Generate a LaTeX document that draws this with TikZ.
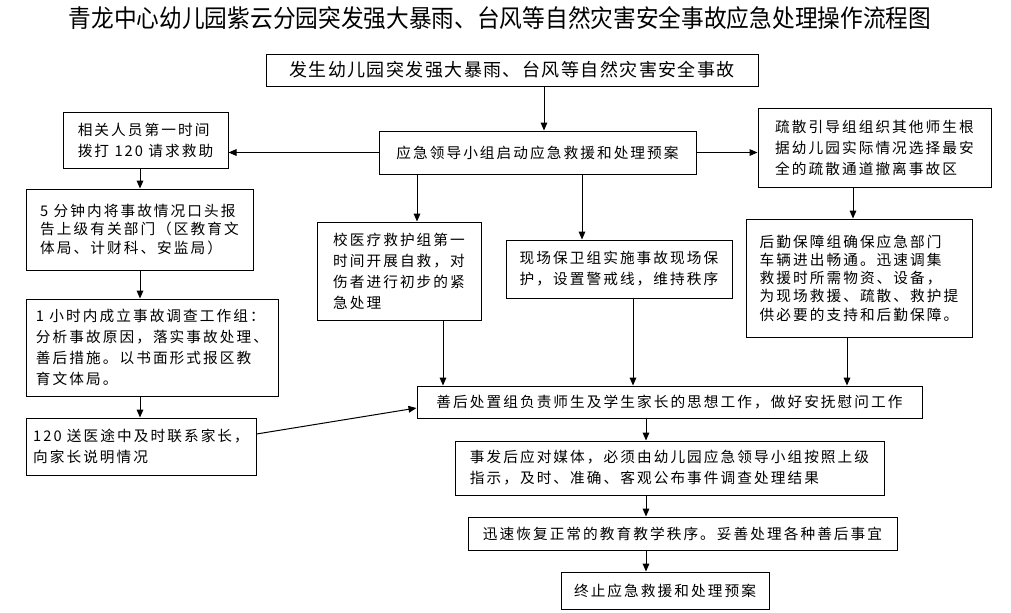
\documentclass[tikz,border=0pt]{standalone}
\usepackage{fontspec}
\setmainfont{Noto Sans CJK SC}[LetterSpace=14]
\newfontfamily\qlheadline{Noto Sans CJK SC}[LetterSpace=0]
\newfontfamily\headfont{Noto Sans CJK SC}[LetterSpace=8]
\usetikzlibrary{arrows.meta}
\newcommand\pxbox[7]{\node[box,minimum width={(#4-#2)*0.75pt},minimum height={(#5-#3)*0.75pt},#6] (#1) at ({(#2+#4)/2},{(#3+#5)/2}) {#7};}
\begin{document}
\begin{tikzpicture}[x=0.75pt,y=-0.75pt,
  box/.style={draw, line width=0.75pt, align=left, inner sep=0pt, font=\fontsize{11pt}{15.75pt}\selectfont},
  tight/.style={font=\fontsize{11pt}{13.7pt}\selectfont},
  arr/.style={line width=0.75pt, -{Triangle[length=6pt,width=5pt]}}]
\useasboundingbox (0,0) rectangle (1011,612);

\node[font=\qlheadline\fontsize{18.5pt}{22pt}\selectfont, inner sep=0pt] (title) at (500,18) {\scalebox{0.92}[1]{青龙中心幼儿园紫云分园突发强大暴雨、台风等自然灾害安全事故应急处理操作流程图}};

\pxbox{A}{266}{54}{758}{86}{font=\headfont\fontsize{13.5pt}{16pt}\selectfont}{发生幼儿园突发强大暴雨、台风等自然灾害安全事故}
\pxbox{B}{379}{131}{696}{174}{}{应急领导小组启动应急救援和处理预案}
\pxbox{C}{63}{112}{228}{168}{}{相关人员第一时间\\拨打 120 请求救助}
\pxbox{D}{758}{108}{991}{187}{}{疏散引导组组织其他师生根\\据幼儿园实际情况选择最安\\全的疏散通道撤离事故区}
\pxbox{E}{26}{189}{253}{270}{tight}{5 分钟内将事故情况口头报\\告上级有关部门（区教育文\\体局、计财科、安监局）}
\pxbox{F}{317}{222}{481}{320}{}{校医疗救护组第一\\时间开展自救，对\\伤者进行初步的紧\\急处理}
\pxbox{G}{506}{240}{732}{298}{}{现场保卫组实施事故现场保\\护，设置警戒线，维持秩序}
\pxbox{H}{746}{219}{972}{337}{tight}{后勤保障组确保应急部门\\车辆进出畅通。迅速调集\\救援时所需物资、设备，\\为现场救援、疏散、救护提\\供必要的支持和后勤保障。}
\pxbox{I}{26}{299}{278}{396}{}{1 小时内成立事故调查工作组：\\分析事故原因，落实事故处理、\\善后措施。以书面形式报区教\\育文体局。}
\pxbox{J}{26}{418}{256}{475}{}{120 送医途中及时联系家长，\\向家长说明情况}
\pxbox{K}{417}{386}{922}{418}{}{善后处置组负责师生及学生家长的思想工作，做好安抚慰问工作}
\pxbox{L}{455}{441}{884}{495}{}{事发后应对媒体，必须由幼儿园应急领导小组按照上级\\指示，及时、准确、客观公布事件调查处理结果}
\pxbox{M}{468}{517}{897}{550}{}{迅速恢复正常的教育教学秩序。妥善处理各种善后事宜}
\pxbox{N}{561}{572}{769}{609}{}{终止应急救援和处理预案}

\coordinate (xAB) at (544,0);
\coordinate (xL) at (140,0);
\coordinate (xF) at (417,0);
\coordinate (xG) at (582,0);
\coordinate (xD) at (853,0);
\coordinate (xFK) at (443,0);
\coordinate (xGK) at (633,0);
\coordinate (xHK) at (847,0);
\coordinate (xC) at (646,0);
\coordinate (yJ) at (0,434);
\coordinate (yK) at (0,408);

\draw[arr] (A.south -| xAB) -- (B.north -| xAB);
\draw[arr] (B.west) -- (B.west -| C.east);
\draw[arr] (B.east) -- (B.east -| D.west);
\draw[arr] (C.south -| xL) -- (E.north -| xL);
\draw[arr] (E.south -| xL) -- (I.north -| xL);
\draw[arr] (I.south -| xL) -- (J.north -| xL);
\draw[arr] (B.south -| xF) -- (F.north -| xF);
\draw[arr] (B.south -| xG) -- (G.north -| xG);
\draw[arr] (D.south -| xD) -- (H.north -| xD);
\draw[arr] (F.south -| xFK) -- (K.north -| xFK);
\draw[arr] (G.south -| xGK) -- (K.north -| xGK);
\draw[arr] (H.south -| xHK) -- (K.north -| xHK);
\draw[arr] (J.east |- yJ) -- (K.west |- yK);
\draw[arr] (K.south -| xC) -- (L.north -| xC);
\draw[arr] (L.south -| xC) -- (M.north -| xC);
\draw[arr] (M.south -| xC) -- (N.north -| xC);
\end{tikzpicture}
\end{document}
